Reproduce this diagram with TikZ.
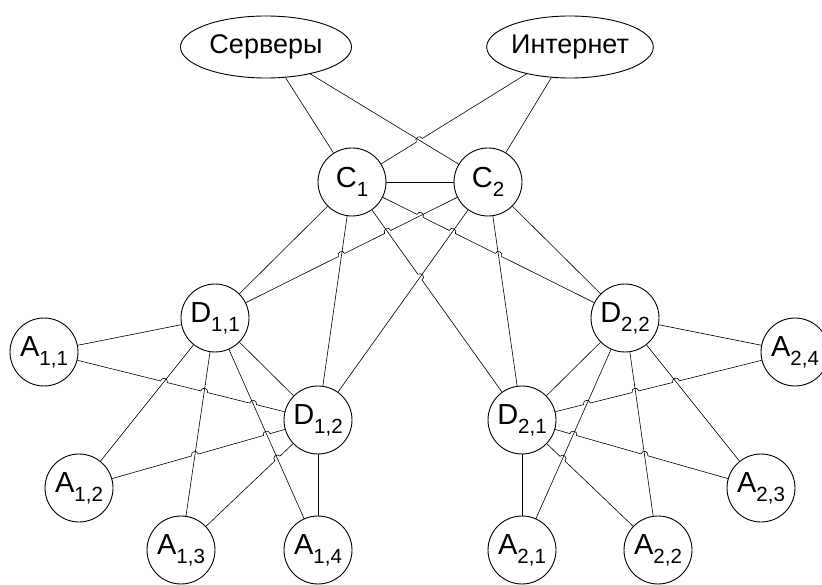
\documentclass[tikz,border=0pt]{standalone}
\usepackage{fontspec}
\setmainfont{Liberation Sans}
\usetikzlibrary{shapes.geometric,intersections,calc}
\newcommand\sbs[1]{\raisebox{-0.3em}{\fontsize{20.5}{20.5}\selectfont #1}}
\newcommand\mkhop[5]{%
  \path[name intersections={of=#2 and #3, by=#1}];
  \coordinate (#1s) at ($(#1)!3.5pt!(#4)$);
  \coordinate (#1e) at ($(#1)!3.5pt!(#5)$);
  \coordinate (#1a) at ($(#1s)!4.7pt!90:(#1)$);
  \coordinate (#1b) at ($(#1e)!4.7pt!-90:(#1)$);
}
\newcommand\hop[1]{-- (#1s) .. controls (#1a) and (#1b) .. (#1e)}
\begin{document}
\begin{tikzpicture}[x=1pt,y=-1pt,
  nd/.style={circle,draw,line width=0.9pt,minimum size=68pt,inner sep=0pt,
    font=\fontsize{29}{29}\selectfont},
  ell/.style={ellipse,draw,line width=0.9pt,inner sep=0pt,
    font=\fontsize{27}{27}\selectfont},
  ln/.style={line width=0.6pt}]
\useasboundingbox (0,0) rectangle (822,585);
% nodes
\node[ell,minimum width=171pt,minimum height=62pt] (S) at (266,47) {Серверы};
\node[ell,minimum width=163pt,minimum height=62pt] (I) at (570,47) {Интернет};
\node[nd] (C1) at (352,182) {C\sbs{1}};
\node[nd] (C2) at (488,182) {C\sbs{2}};
\node[nd] (D11) at (215,318) {D\sbs{1,1}};
\node[nd] (D12) at (318,420) {D\sbs{1,2}};
\node[nd] (D21) at (522,420) {D\sbs{2,1}};
\node[nd] (D22) at (625,318) {D\sbs{2,2}};
\node[nd] (A11) at (44,352) {A\sbs{1,1}};
\node[nd] (A12) at (79,488) {A\sbs{1,2}};
\node[nd] (A13) at (181,550) {A\sbs{1,3}};
\node[nd] (A14) at (318,550) {A\sbs{1,4}};
\node[nd] (A21) at (522,550) {A\sbs{2,1}};
\node[nd] (A22) at (658,550) {A\sbs{2,2}};
\node[nd] (A23) at (761,488) {A\sbs{2,3}};
\node[nd] (A24) at (795,352) {A\sbs{2,4}};
% named paths for crossings
\path[name path=ic1] (C1) -- (I);
\path[name path=sc2] (S) -- (C2);
\path[name path=c1d22] (C1) -- (D22);
\path[name path=c1d21] (C1) -- (D21);
\path[name path=c1d12] (C1) -- (D12);
\path[name path=c2d11] (D11) -- (C2);
\path[name path=c2d12] (C2) -- (D12);
\path[name path=c2d21] (C2) -- (D21);
\path[name path=d12a11] (A11) -- (D12);
\path[name path=d12a12] (A12) -- (D12);
\path[name path=d12a13] (A13) -- (D12);
\path[name path=d11a12] (D11) -- (A12);
\path[name path=d11a13] (D11) -- (A13);
\path[name path=d11a14] (D11) -- (A14);
\path[name path=d21a24] (D21) -- (A24);
\path[name path=d21a23] (D21) -- (A23);
\path[name path=d21a22] (D21) -- (A22);
\path[name path=d22a21] (D22) -- (A21);
\path[name path=d22a22] (D22) -- (A22);
\path[name path=d22a23] (D22) -- (A23);
% hops
\mkhop{h0}{ic1}{sc2}{C1}{I}
\mkhop{h1}{c1d22}{c2d11}{C1}{D22}
\mkhop{h3}{c1d22}{c2d12}{C1}{D22}
\mkhop{h5}{c1d22}{c2d21}{C1}{D22}
\mkhop{h4}{c2d11}{c1d12}{D11}{C2}
\mkhop{h2}{c2d11}{c1d21}{D11}{C2}
\mkhop{h6}{c1d21}{c2d12}{C1}{D21}
\mkhop{l1}{d12a11}{d11a12}{A11}{D12}
\mkhop{l2}{d12a11}{d11a13}{A11}{D12}
\mkhop{l3}{d12a11}{d11a14}{A11}{D12}
\mkhop{l4}{d12a12}{d11a13}{A12}{D12}
\mkhop{l5}{d12a12}{d11a14}{A12}{D12}
\mkhop{l6}{d12a13}{d11a14}{A13}{D12}
\mkhop{r1}{d21a24}{d22a21}{D21}{A24}
\mkhop{r2}{d21a24}{d22a22}{D21}{A24}
\mkhop{r3}{d21a24}{d22a23}{D21}{A24}
\mkhop{r4}{d21a23}{d22a21}{D21}{A23}
\mkhop{r5}{d21a23}{d22a22}{D21}{A23}
\mkhop{r6}{d21a22}{d22a21}{D21}{A22}
% top connectors
\draw[ln] (S) -- (C1);
\draw[ln] (S) -- (C2);
\draw[ln] (C1) \hop{h0} -- (I);
\draw[ln] (I) -- (C2);
\draw[ln] (C1) -- (C2);
% core to distribution
\draw[ln] (C1) -- (D11);
\draw[ln] (C1) -- (D12);
\draw[ln] (C1) \hop{h6} -- (D21);
\draw[ln] (C1) \hop{h1} \hop{h3} \hop{h5} -- (D22);
\draw[ln] (D11) \hop{h4} \hop{h2} -- (C2);
\draw[ln] (C2) -- (D12);
\draw[ln] (C2) -- (D21);
\draw[ln] (C2) -- (D22);
% left group
\draw[ln] (D11) -- (D12);
\draw[ln] (D11) -- (A11);
\draw[ln] (D11) -- (A12);
\draw[ln] (D11) -- (A13);
\draw[ln] (D11) -- (A14);
\draw[ln] (A11) \hop{l1} \hop{l2} \hop{l3} -- (D12);
\draw[ln] (A12) \hop{l4} \hop{l5} -- (D12);
\draw[ln] (A13) \hop{l6} -- (D12);
\draw[ln] (D12) -- (A14);
% right group
\draw[ln] (D22) -- (D21);
\draw[ln] (D22) -- (A21);
\draw[ln] (D22) -- (A22);
\draw[ln] (D22) -- (A23);
\draw[ln] (D22) -- (A24);
\draw[ln] (D21) \hop{r1} \hop{r2} \hop{r3} -- (A24);
\draw[ln] (D21) \hop{r4} \hop{r5} -- (A23);
\draw[ln] (D21) \hop{r6} -- (A22);
\draw[ln] (D21) -- (A21);
\end{tikzpicture}
\end{document}
